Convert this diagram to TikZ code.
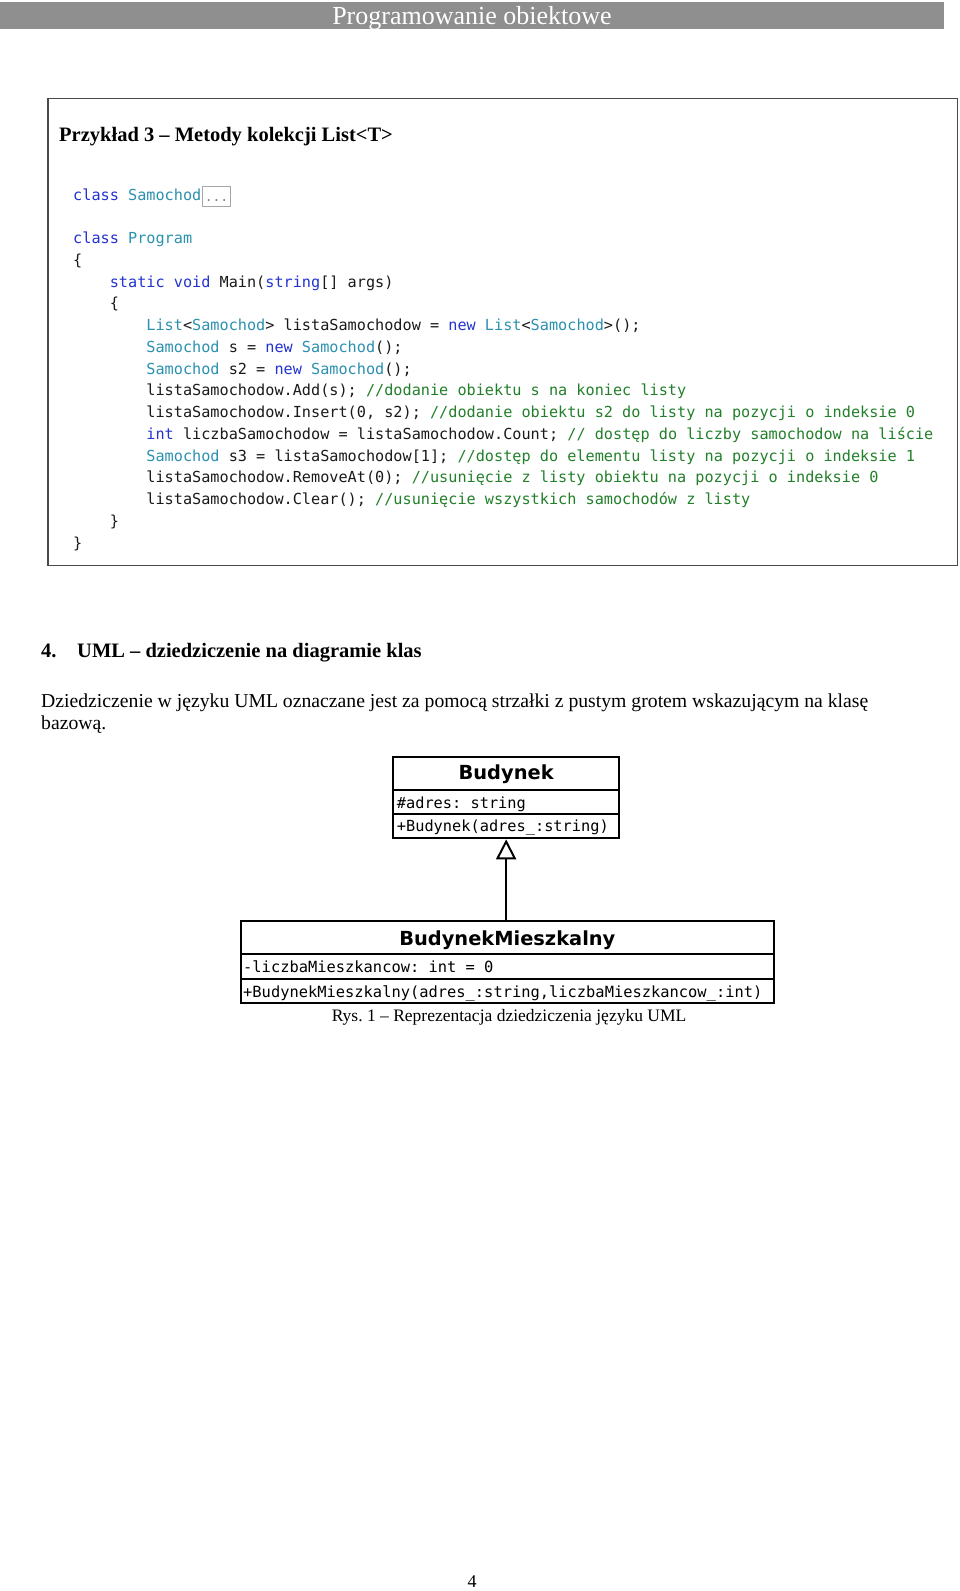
\documentclass[tikz,border=0pt]{standalone}
\usepackage{fontspec}
\setmainfont{Liberation Serif}
\newfontfamily\codefont{DejaVu Sans Mono}
\newfontfamily\umlsans{DejaVu Sans}
\usetikzlibrary{arrows.meta}

\definecolor{kwblue}{HTML}{2233D0}
\definecolor{tyteal}{HTML}{2B91AF}
\definecolor{cmgreen}{HTML}{22802A}
\definecolor{codeblack}{HTML}{1A1A1A}
\definecolor{headgray}{HTML}{8F8F8F}
\definecolor{boxgray}{HTML}{4A4A4A}

\newcommand{\kw}[1]{\textcolor{kwblue}{#1}}
\newcommand{\ty}[1]{\textcolor{tyteal}{#1}}
\newcommand{\cm}[1]{\textcolor{cmgreen}{#1}}

\tikzset{
  codeline/.style={anchor=base west, inner sep=0pt, text=codeblack,
    font=\codefont\fontsize{15.2}{15.2}\selectfont},
  umlbox/.style={draw=black, line width=2pt, inner sep=0pt},
  umltitle/.style={anchor=base, inner sep=0pt,
    font=\umlsans\bfseries\fontsize{19.4}{19.4}\selectfont},
  umlmember/.style={anchor=base west, inner sep=0pt,
    font=\codefont\fontsize{15.4}{15.4}\selectfont},
  bodytext/.style={anchor=base west, inner sep=0pt,
    font=\fontsize{19.7}{19.7}\selectfont},
  headbold/.style={anchor=base west, inner sep=0pt,
    font=\bfseries\fontsize{20.5}{20.5}\selectfont},
}

\begin{document}
\frenchspacing
\begin{tikzpicture}[x=1pt,y=-1pt]
\useasboundingbox (0,0) rectangle (960,1591);
\fill[white] (0,0) rectangle (960,1591);

% header bar
\fill[headgray] (0,1.5) rectangle (944,29);
\node[anchor=base, inner sep=0pt, text=white, font=\fontsize{26}{26}\selectfont] (header) at (472,24) {Programowanie obiektowe};

% code frame
\draw[boxgray, line width=1.5pt] (48,98.5) rectangle (957.5,565.5);
\node[headbold] (ex) at (59,141) {Przykład 3 -- Metody kolekcji List<T>};

% code lines
\node[codeline] (c1) at (73,200) {\kw{class} \ty{Samochod}};
\node[draw=gray!70, line width=1pt, inner sep=0pt, minimum width=28, minimum height=20, text height=13, text depth=3, anchor=west, text=gray, font=\codefont\fontsize{13}{13}\selectfont] (dots) at (202,196) {...};
\node[codeline] (c2) at (73,243.5) {\kw{class} \ty{Program}};
\node[codeline] (c3) at (73,265.25) {\{};
\node[codeline] (c4) at (109.6,287) {\kw{static} \kw{void} Main(\kw{string}[] args)};
\node[codeline] (c5) at (109.6,308.75) {\{};
\node[codeline] (c6) at (146.2,330.5) {\ty{List}<\ty{Samochod}> listaSamochodow = \kw{new} \ty{List}<\ty{Samochod}>();};
\node[codeline] (c7) at (146.2,352.25) {\ty{Samochod} s = \kw{new} \ty{Samochod}();};
\node[codeline] (c8) at (146.2,374) {\ty{Samochod} s2 = \kw{new} \ty{Samochod}();};
\node[codeline] (c9) at (146.2,395.75) {listaSamochodow.Add(s); \cm{//dodanie obiektu s na koniec listy}};
\node[codeline] (c10) at (146.2,417.5) {listaSamochodow.Insert(0, s2); \cm{//dodanie obiektu s2 do listy na pozycji o indeksie 0}};
\node[codeline] (c11) at (146.2,439.25) {\kw{int} liczbaSamochodow = listaSamochodow.Count; \cm{// dostęp do liczby samochodow na liście}};
\node[codeline] (c12) at (146.2,461) {\ty{Samochod} s3 = listaSamochodow[1]; \cm{//dostęp do elementu listy na pozycji o indeksie 1}};
\node[codeline] (c13) at (146.2,482.75) {listaSamochodow.RemoveAt(0); \cm{//usunięcie z listy obiektu na pozycji o indeksie 0}};
\node[codeline] (c14) at (146.2,504.5) {listaSamochodow.Clear(); \cm{//usunięcie wszystkich samochodów z listy}};
\node[codeline] (c15) at (109.6,526.25) {\}};
\node[codeline] (c16) at (73,548) {\}};

% section heading and text
\node[headbold] (num) at (41,657) {4.};
\node[headbold] (sec) at (77,657) {UML -- dziedziczenie na diagramie klas};
\node[bodytext] (p1) at (41,707) {Dziedziczenie w języku UML oznaczane jest za pomocą strzałki z pustym grotem wskazującym na klasę};
\node[bodytext] (p2) at (41,729.5) {bazową.};

% UML: Budynek
\node[umlbox, minimum width=225.7, minimum height=81.6] (bud) at (506.15,797.5) {};
\draw[line width=2pt] (bud.west |- 0,790) -- (bud.east |- 0,790);
\draw[line width=2pt] (bud.west |- 0,814.3) -- (bud.east |- 0,814.3);
\node[umltitle] (budt) at (506.15,779.5) {Budynek};
\node[umlmember, font=\codefont\fontsize{15.3}{15.3}\selectfont] (buda) at (396.7,808.3) {\#adres: string};
\node[umlmember, font=\codefont\fontsize{15.3}{15.3}\selectfont] (budm) at (396.7,831.5) {+Budynek(adres\_:string)};

% UML: BudynekMieszkalny
\node[umlbox, minimum width=533.3, minimum height=82.6] (bm) at (507.35,962) {};
\draw[line width=2pt] (bm.west |- 0,954) -- (bm.east |- 0,954);
\draw[line width=2pt] (bm.west |- 0,978.7) -- (bm.east |- 0,978.7);
\node[umltitle] (bmt) at (507.35,945) {BudynekMieszkalny};
\node[umlmember] (bma) at (243,972.5) {-liczbaMieszkancow: int = 0};
\node[umlmember] (bmm) at (243,997) {+BudynekMieszkalny(adres\_:string,liczbaMieszkancow\_:int)};

% inheritance arrow
\draw[line width=2pt, -{Triangle[open, length=20pt, width=20pt]}] (bm.north -| bud.south) -- (bud.south);

% caption
\node[anchor=base, inner sep=0pt, font=\fontsize{17.5}{17.5}\selectfont] (cap) at (509,1021) {Rys. 1 -- Reprezentacja dziedziczenia języku UML};

% page number
\node[anchor=base, inner sep=0pt, font=\fontsize{18}{18}\selectfont] (page) at (472,1587) {4};
\end{tikzpicture}
\end{document}
